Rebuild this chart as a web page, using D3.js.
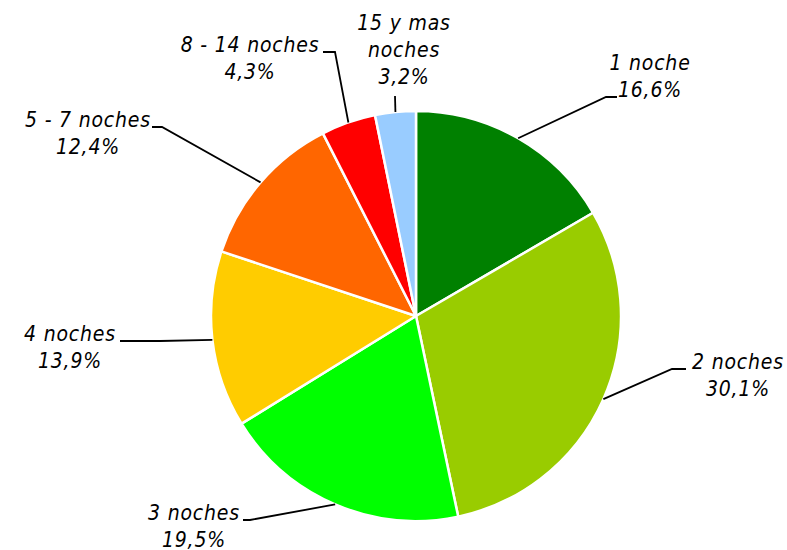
<!DOCTYPE html>
<html>
<head>
<meta charset="utf-8">
<script src="https://cdn.jsdelivr.net/npm/d3@7"></script>
<style>
  body { margin: 0; background: #fff; }
  text.lbl {
    font-family: 'DejaVu Sans Condensed', 'DejaVu Sans', sans-serif;
    font-stretch: condensed;
    font-style: italic;
    font-size: 21px;
    letter-spacing: 0.8px;
    fill: #000;
  }
</style>
</head>
<body>
<div id="chart"></div>
<script>
// data
var categories = ['1 noche', '2 noches', '3 noches', '4 noches', '5 - 7 noches', '8 - 14 noches', '15 y mas noches'];
var values = [16.6, 30.1, 19.5, 13.9, 12.4, 4.3, 3.2];
var colors = ['#008000', '#99cc00', '#00ff00', '#ffcc00', '#ff6600', '#ff0000', '#99ccff'];
// label text lines (name split for wrapping)
var labelLines = [['1 noche'], ['2 noches'], ['3 noches'], ['4 noches'], ['5 - 7 noches'], ['8 - 14 noches'], ['15 y mas', 'noches']];

// layout for the leader lines / labels (elbow point, end of tick, text centre + first baseline)
var labelLayout = [
  {elbow: [606, 97], end: [617, 97], tx: 650, ty: 70},
  {elbow: [672, 369], end: [686, 369], tx: 738, ty: 369},
  {elbow: [250, 520], end: [243, 520], tx: 194, ty: 520},
  {elbow: [160, 341], end: [120, 341], tx: 70, ty: 341},
  {elbow: [162, 127], end: [152, 127], tx: 88, ty: 127},
  {elbow: [335, 52], end: [323, 52], tx: 250, ty: 52},
  {elbow: [395, 96], end: [395, 96], tx: 404, ty: 30}
];

var width = 787, height = 550;
var cx = 416, cy = 316, radius = 205;

var svg = d3.select('#chart')
  .append('svg')
  .attr('width', width)
  .attr('height', height);

var pie = d3.pie()
  .sort(null)
  .value(function(d) { return d; });

var arc = d3.arc()
  .innerRadius(0)
  .outerRadius(radius);

var arcs = pie(values);

var g = svg.append('g')
  .attr('transform', 'translate(' + cx + ',' + cy + ')');

g.selectAll('path.slice')
  .data(arcs)
  .enter()
  .append('path')
  .attr('class', 'slice')
  .attr('d', arc)
  .attr('fill', function(d, i) { return colors[i]; })
  .attr('stroke', '#fff')
  .attr('stroke-width', 2.5)
  .attr('stroke-linejoin', 'round');

function fmt(v) {
  return v.toFixed(1).replace('.', ',') + '%';
}

// leader lines + labels
arcs.forEach(function(d, i) {
  var mid = (d.startAngle + d.endAngle) / 2;
  var px = cx + Math.sin(mid) * radius,
      py = cy - Math.cos(mid) * radius;
  var L = labelLayout[i];
  var pts = [[px, py], L.elbow, L.end];
  svg.append('polyline')
    .attr('points', pts.map(function(p) { return p.join(','); }).join(' '))
    .attr('fill', 'none')
    .attr('stroke', '#000')
    .attr('stroke-width', 1.8);

  var lines = labelLines[i].concat([fmt(values[i])]);
  var t = svg.append('text')
    .attr('class', 'lbl')
    .attr('text-anchor', 'middle')
    .attr('x', L.tx)
    .attr('y', L.ty);
  lines.forEach(function(s, k) {
    t.append('tspan')
      .attr('x', L.tx)
      .attr('dy', k === 0 ? 0 : 27)
      .text(s);
  });
});
</script>
</body>
</html>
